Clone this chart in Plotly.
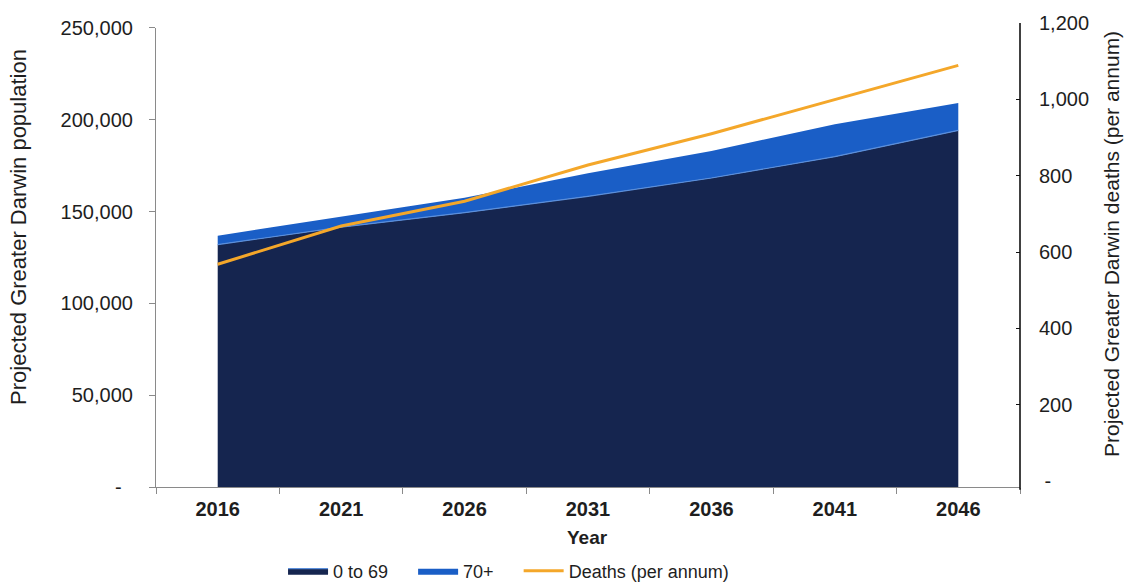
import plotly.graph_objects as go

# Projected Greater Darwin population by age group, and projected deaths
years = ["2016", "2021", "2026", "2031", "2036", "2041", "2046"]
pop_0_to_69 = [132000, 141500, 149400, 158300, 168300, 179900, 194200]
pop_70_plus = [4900, 5600, 8100, 12600, 14700, 17700, 14900]
deaths = [568, 668, 733, 828, 910, 1000, 1089]

left_ticks = [0, 50000, 100000, 150000, 200000, 250000]
left_labels = ["-\u00a0\u00a0", "50,000", "100,000", "150,000", "200,000", "250,000"]
right_ticks = [0, 200, 400, 600, 800, 1000, 1200]
right_labels = ["\u00a0-", "200", "400", "600", "800", "1,000", "1,200"]

DARK = "#15254f"
BLUE = "#1a5ec6"
EDGE = "#5b8fdb"
ORANGE = "#f4a72a"
TXT = "#1e1e1e"
FONT = "Liberation Sans, Arial, sans-serif"
PAD = "\u00a0" * 4

fig = go.Figure()
fig.add_trace(go.Scatter(
    x=years, y=pop_0_to_69, name="0 to 69" + PAD, stackgroup="pop",
    mode="lines", line=dict(color=EDGE, width=1.2), fillcolor=DARK,
))
fig.add_trace(go.Scatter(
    x=years, y=pop_70_plus, name="70+" + PAD, stackgroup="pop",
    mode="lines", line=dict(color=BLUE, width=0), fillcolor=BLUE,
))
fig.add_trace(go.Scatter(
    x=years, y=deaths, name="Deaths (per annum)", xaxis="x", yaxis="y2",
    mode="lines", line=dict(color=ORANGE, width=3),
))

fig.update_layout(
    width=1129, height=585,
    margin=dict(l=156, r=109, t=18, b=98),
    paper_bgcolor="white", plot_bgcolor="rgba(0,0,0,0)",
    font=dict(family=FONT, size=20, color=TXT),
    showlegend=True,
    legend=dict(
        orientation="h", x=0.2507, xref="container", xanchor="left",
        y=0.024, yref="container", yanchor="middle",
        font=dict(size=18, color=TXT), traceorder="normal",
        itemwidth=40, tracegroupgap=0, bgcolor="rgba(0,0,0,0)",
    ),
    xaxis=dict(
        type="category", range=[-0.5, 6.5],
        showline=True, linecolor="#8a8a8a", linewidth=1.2,
        ticks="outside", tickson="boundaries", ticklen=6, tickcolor="#8a8a8a",
        ticklabelstandoff=4,
        tickfont=dict(size=20, color=TXT, family=FONT, weight="bold"),
        showgrid=False, zeroline=False,
    ),
    yaxis=dict(
        domain=[0, 0.9893], range=[0, 250000],
        tickvals=left_ticks, ticktext=left_labels,
        showline=True, linecolor="#8a8a8a", linewidth=1.2,
        ticks="outside", ticklen=6, tickcolor="#8a8a8a",
        ticklabelstandoff=12,
        tickfont=dict(size=20, color=TXT),
        showgrid=False, zeroline=False,
    ),
    yaxis2=dict(
        domain=[0.0128, 1.0], range=[0, 1200], anchor="x", side="right",
        tickvals=right_ticks, ticktext=right_labels,
        showline=False,
        ticks="inside", ticklen=4, tickcolor="#111111",
        ticklabelstandoff=18,
        tickfont=dict(size=20, color=TXT),
        showgrid=False, zeroline=False,
    ),
    shapes=[dict(
        type="line", xref="paper", yref="paper", x0=1, x1=1, y0=-0.006, y1=1.0,
        line=dict(color="#111111", width=1.6),
    )],
    annotations=[
        dict(text="Projected Greater Darwin population", xref="paper", yref="paper",
             x=-0.16, y=0.56, textangle=-90, showarrow=False,
             font=dict(size=22, color=TXT), xanchor="center", yanchor="middle"),
        dict(text="Projected Greater Darwin deaths (per annum)", xref="paper", yref="paper",
             x=1.106, y=0.523, textangle=-90, showarrow=False,
             font=dict(size=21, color=TXT), xanchor="center", yanchor="middle"),
        dict(text="<b>Year</b>", xref="paper", yref="paper",
             x=0.499, y=-0.108, showarrow=False,
             font=dict(size=19, color=TXT), xanchor="center", yanchor="middle"),
    ],
)

fig.write_html("out.html")
